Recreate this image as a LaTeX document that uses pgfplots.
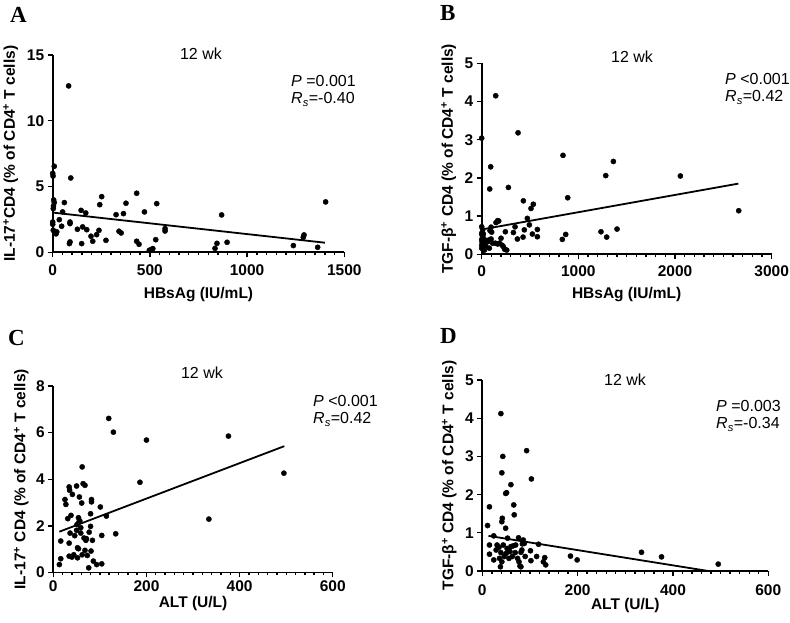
\documentclass[border=0pt]{standalone}
\usepackage{fontspec}
\setmainfont{Liberation Sans}
\newfontfamily\serifbold{Liberation Serif}
\usepackage{pgfplots}
\pgfplotsset{compat=1.18}

\newcommand\labfont{\fontsize{15.5}{18}\selectfont\bfseries}

\pgfplotsset{
  panel/.style={
    scale only axis,
    anchor=south west,
    axis lines=left,
    axis line style={line width=1.8pt,-},
    xmin=0, ymin=0,
    enlargelimits=false,
    clip=false,
    tick align=outside,
    major tick length=5pt,
    minor tick length=3pt,
    tick style={line width=1.4pt,black},
    minor x tick num=9,
    scaled ticks=false,
    /pgf/number format/assume math mode=true,
    /pgf/number format/set thousands separator={},
    tick label style={font=\fontsize{15.5}{17}\selectfont\bfseries},
  },
  xlab/.style={every axis x label/.style={at={(axis description cs:0.5,0)},yshift=-#1,anchor=center,font=\labfont}},
  ylab/.style={every axis y label/.style={at={(axis description cs:0,0.5)},xshift=-#1,rotate=90,anchor=center,font=\labfont}},
  pts/.style={only marks, mark=*, mark size=2.6pt, black},
  fit/.style={no marks, line width=1.8pt, black},
}

\begin{document}
\begin{tikzpicture}
\path[use as bounding box] (0pt,0pt) rectangle (790pt,623pt);

% A
\begin{axis}[panel, xlab=42pt, ylab=42pt, xticklabel style={yshift=-4pt},
  at={(52.7pt,370.7pt)}, width=291.6pt, height=197.3pt,
  xmax=1500, ymax=15, xtick={0,500,1000,1500}, ytick={0,5,10,15},
  xlabel={HBsAg (IU/mL)}, ylabel={IL-17\textsuperscript{+}CD4 (\% of CD4\textsuperscript{+} T cells)}]
\addplot[pts] coordinates {
(0,6.0) (8,6.54) (2,5.8) (0,2.3) (0,2.13) (3,1.67) (5,3.98) (8,3.78) (4,3.52) (3,3.32)
(12,1.47) (21,1.55) (17,1.4) (34,2.48) (46,1.98) (51,3.07) (60,3.78) (82,12.65)
(89,2.18) (89,2.3) (93,5.65) (86,0.66) (89,0.79) (127,1.75) (146,3.19) (149,0.66)
(154,1.93) (170,2.99) (175,1.72) (197,1.22) (206,0.84) (226,1.34) (238,1.67)
(242,3.62) (252,4.23) (274,0.91) (326,2.86) (341,1.6) (352,1.47) (364,2.94)
(377,3.73) (432,4.49) (432,0.84) (444,0.61) (472,3.07) (497,0.15) (506,0.2)
(515,0.28) (530,0.96) (535,3.7) (578,1.8) (578,1.62) (835,0.3) (845,0.68)
(869,2.84) (897,0.76) (1238,0.51) (1289,1.14) (1293,1.32) (1363,0.38) (1404,3.83)
};
\addplot[fit] coordinates {(0,3.02) (1400,0.73)};
\end{axis}

% B
\begin{axis}[panel, xlab=40pt, ylab=33pt, xticklabel style={yshift=-3pt},
  at={(481.7pt,368.7pt)}, width=290pt, height=191pt,
  xmax=3000, ymax=5, xtick={0,1000,2000,3000}, ytick={0,1,2,3,4,5},
  xlabel={HBsAg (IU/mL)}, ylabel={TGF-β\textsuperscript{+} CD4 (\% of CD4\textsuperscript{+} T cells)}]
\addplot[pts] coordinates {
(0,3.04) (145,4.15) (93,2.29) (83,1.71) (276,1.75) (376,3.18) (431,1.40) (534,1.31)
(510,1.20) (472,0.94) (890,1.48) (841,2.59) (1283,2.06) (1362,2.43) (2055,2.05)
(2659,1.14) (1234,0.59) (1293,0.45) (1400,0.66) (834,0.39) (869,0.52) (576,0.65)
(576,0.46) (524,0.53) (493,0.77) (441,0.64) (428,0.45) (369,0.40) (345,0.72)
(328,0.57) (245,0.59)
(0,0.72) (0,0.55) (3,0.51) (17,0.53) (0,0.39) (3,0.33) (0,0.24) (0,0.16) (17,0.11)
(28,0.29) (45,0.2) (62,0.33) (79,0.38) (97,0.4) (103,0.58) (86,0.62) (97,0.71)
(148,0.83) (165,0.88) (176,0.87) (114,0.29) (141,0.29) (165,0.27) (183,0.29)
(200,0.42) (210,0.24) (224,0.2) (238,0.13) (259,0.11) (28,0.11) (79,0.16)
(10,0.64) (17,0.42) (38,0.37)
};
\addplot[fit] coordinates {(0,0.65) (2655,1.85)};
\end{axis}

% C
\begin{axis}[panel, xlab=31pt, ylab=32pt, xticklabel style={yshift=0pt},
  at={(53.3pt,50.5pt)}, width=279.5pt, height=186.5pt,
  xmax=600, ymax=8, xtick={0,200,400,600}, ytick={0,2,4,6,8},
  xlabel={ALT (U/L)}, ylabel={IL-17\textsuperscript{+} CD4 (\% of CD4\textsuperscript{+} T cells)}]
\addplot[pts] coordinates {
(13,0.34) (16,0.59) (16,1.35) (25,3.13) (27,2.92) (31,2.31) (34,3.67) (35,3.53)
(34,1.26) (36,1.69) (34,0.70) (38,2.45) (40,0.66) (41,3.35) (44,0.76) (46,1.58)
(50,3.71) (50,1.81) (52,1.06) (52,0.63) (51,2.06) (54,2.35) (55,2.16) (56,3.24)
(54,1.02) (57,2.21) (59,1.92) (59,1.69) (61,2.98) (62,4.53) (62,0.76) (64,3.81)
(66,1.48) (68,3.74) (68,0.95) (70,1.38) (71,1.45) (73,0.73) (76,0.2) (77,1.73)
(80,2.52) (80,1.98) (82,3.03) (82,3.13) (81,0.92) (84,1.38) (86,0.49) (93,0.34)
(101,2.81) (104,1.59) (104,0.37) (114,2.42) (119,6.61) (129,6.02) (134,1.66)
(186,3.87) (200,5.68) (334,2.29) (376,5.85) (495,4.26)
};
\addplot[fit] coordinates {(13,1.75) (496,5.42)};
\end{axis}

% D
\begin{axis}[panel, xlab=34pt, ylab=33pt, xticklabel style={yshift=-5pt},
  at={(482.3pt,52pt)}, width=286pt, height=191pt,
  xmax=600, ymax=5, xtick={0,200,400,600}, ytick={0,1,2,3,4,5},
  xlabel={ALT (U/L)}, ylabel={TGF-β\textsuperscript{+} CD4 (\% of CD4\textsuperscript{+} T cells)}]
\addplot[pts] coordinates {
(39,4.12) (43,3.0) (41,2.57) (93,3.15) (103,2.41) (60,2.26) (49,2.03) (51,2.05)
(15,1.68) (66,1.73) (67,1.47) (42,1.38) (41,1.29) (11,1.19) (49,1.12) (24,0.92)
(76,0.87) (53,0.86) (15,0.68) (15,0.44) (24,0.29) (29,0.55) (31,0.68) (35,0.62)
(36,0.33) (38,0.11) (39,0.48) (41,0.24) (44,0.68) (46,0.38) (50,0.46) (52,0.59)
(56,0.33) (58,0.51) (60,0.64) (63,0.38) (65,0.66) (69,0.48) (70,0.68) (74,0.33)
(77,0.24) (79,0.13) (81,0.49) (83,0.55) (84,0.71) (81,0.11) (86,0.81) (88,0.72)
(90,0.38) (101,0.53) (102,0.27) (114,0.38) (118,0.70) (128,0.24) (133,0.16)
(131,0.35) (185,0.39) (199,0.29) (334,0.49) (376,0.37) (495,0.18)
};
\addplot[fit] coordinates {(13,0.92) (474,0)};
\end{axis}

% panel letters
\begin{scope}[every node/.style={inner sep=0pt,anchor=north west,font=\serifbold\fontsize{23}{23}\selectfont\bfseries}]
\node at (10pt,616pt) {A};
\node at (440pt,618pt) {B};
\node at (8pt,293pt) {C};
\node at (440pt,295pt) {D};
\end{scope}

% titles
\begin{scope}[every node/.style={inner sep=0pt,anchor=center,font=\fontsize{16}{18}\selectfont}]
\node at (201pt,569.5pt) {12 wk};
\node at (632pt,566pt) {12 wk};
\node at (202pt,250pt) {12 wk};
\node at (625pt,243pt) {12 wk};
\end{scope}

% statistics
\begin{scope}[every node/.style={inner sep=0pt,anchor=north west,align=left,font=\fontsize{16}{17.5}\selectfont}]
\node at (291pt,548pt) {\textit{P} =0.001\\\textit{R}\textsubscript{\textit{s}}=-0.40};
\node at (725pt,550pt) {\textit{P} <0.001\\\textit{R}\textsubscript{\textit{s}}=0.42};
\node at (313pt,228pt) {\textit{P} <0.001\\\textit{R}\textsubscript{\textit{s}}=0.42};
\node at (716pt,223pt) {\textit{P} =0.003\\\textit{R}\textsubscript{\textit{s}}=-0.34};
\end{scope}
\end{tikzpicture}
\end{document}
